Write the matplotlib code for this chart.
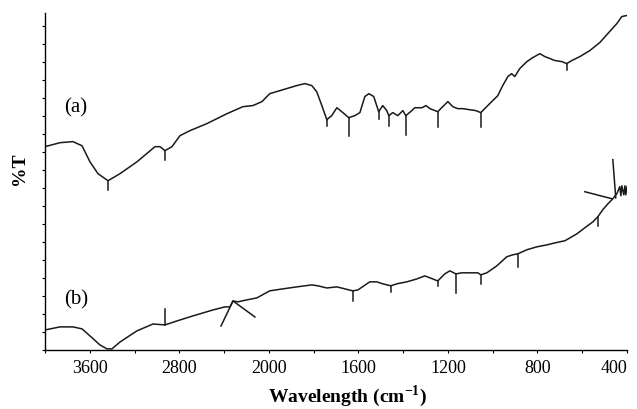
import matplotlib
matplotlib.use("Agg")
import matplotlib.pyplot as plt
import numpy as np

# wavenumber (cm-1) and %T readings, curve (a)
wn_a = [4000, 3866, 3750, 3669, 3598, 3526, 3437, 3330, 3178, 3017, 2972, 2928,
        2865, 2794, 2704, 2553, 2374, 2231, 2142, 2061, 1996, 1937, 1875, 1839,
        1808, 1786, 1763, 1741, 1719, 1696, 1669, 1643, 1616, 1593, 1571, 1553,
        1531, 1518, 1509, 1491, 1473, 1464, 1446, 1424, 1401, 1388, 1361, 1348,
        1316, 1298, 1280, 1245, 1223, 1200, 1178, 1156, 1134, 1102, 1075, 1053,
        1013, 977, 955, 932, 915, 901, 879, 847, 821, 789, 767, 722, 691, 669,
        646, 610, 566, 521, 485, 445, 423, 400]
t_a = [11.28, 11.5, 11.56, 11.33, 10.44, 9.78, 9.39, 9.78, 10.44, 11.28, 11.28, 11.06,
       11.28, 11.89, 12.17, 12.56, 13.11, 13.5, 13.56, 13.78, 14.22, 14.44, 14.67, 14.78,
       14.67, 14.33, 13.56, 12.78, 13.0, 13.44, 13.17, 12.89, 13.0, 13.17, 14.06, 14.22,
       14.06, 13.56, 13.22, 13.56, 13.28, 13.0, 13.17, 13.0, 13.28, 13.0, 13.28, 13.44,
       13.44, 13.56, 13.39, 13.22, 13.5, 13.78, 13.5, 13.39, 13.39, 13.33, 13.28, 13.17,
       13.67, 14.11, 14.67, 15.17, 15.33, 15.17, 15.61, 16.0, 16.22, 16.44, 16.28, 16.06, 16.0, 15.89,
       16.06, 16.28, 16.61, 17.06, 17.56, 18.11, 18.5, 18.56]

# curve (b)
wn_b = [4000, 3866, 3750, 3669, 3598, 3509, 3446, 3401, 3330, 3178, 3035, 2928,
        2821, 2678, 2499, 2392, 2347, 2320, 2276, 2195, 2106, 1996, 1937, 1875,
        1808, 1781, 1741, 1696, 1660, 1625, 1602, 1549, 1518, 1491, 1455, 1428,
        1383, 1339, 1303, 1280, 1245, 1214, 1191, 1164, 1138, 1102, 1066, 1053,
        1026, 981, 937, 910, 888, 847, 803, 758, 722, 677, 624, 588, 552, 530,
        508, 485, 463, 445, 432, 427, 423, 414, 409, 405, 400]
t_b = [1.11, 1.28, 1.28, 1.17, 0.78, 0.28, 0.06, 0.06, 0.44, 1.06, 1.44, 1.39,
       1.61, 1.89, 2.22, 2.39, 2.39, 2.72, 2.67, 2.78, 2.89, 3.28, 3.39, 3.5,
       3.61, 3.56, 3.44, 3.5, 3.39, 3.28, 3.33, 3.78, 3.78, 3.67, 3.56, 3.67,
       3.78, 3.94, 4.11, 4.0, 3.83, 4.22, 4.39, 4.22, 4.28, 4.28, 4.28, 4.17,
       4.28, 4.67, 5.17, 5.28, 5.33, 5.56, 5.72, 5.83, 5.94, 6.06, 6.44, 6.78, 7.11, 7.39,
       7.78, 8.11, 8.39, 8.67, 9.06, 8.56, 9.11, 8.61, 9.11, 8.61, 9.06]

# peak marks: position and tick length (negative = downward)
marks_a = [3437, 2928, 1741, 1643, 1509, 1464, 1388, 1245, 1053, 669]
len_a = [-0.5, -0.5, -0.33, -1.0, -0.4, -0.55, -1.05, -0.83, -0.78, -0.33]
marks_b = [2928, 1625, 1455, 1245, 1164, 1053, 888, 530]
len_b = [0.9, -0.55, -0.33, -0.28, -1.05, -0.5, -0.72, -0.5]

# pointer lines drawn on curve (b)
caret_wn = [2427, 2320, 2124]
caret_t = [1.33, 2.72, 1.83]
ptr1_wn = [463, 450]
ptr1_t = [10.56, 8.44]
ptr2_wn = [588, 467]
ptr2_t = [8.78, 8.39]

xticks = [4000, 3600, 3200, 2800, 2400, 2000, 1800, 1600, 1400, 1200, 1000, 800, 600, 400]
xlabels = ["", "3600", "", "2800", "", "2000", "", "1600", "", "1200", "", "800", "", "400"]


def fwd(x):
    x = np.asarray(x, dtype=float)
    return np.where(x > 2000, 2000 + (x - 2000) / 2, x)


def inv(u):
    u = np.asarray(u, dtype=float)
    return np.where(u > 2000, 2000 + 2 * (u - 2000), u)


plt.rcParams["font.family"] = ["Liberation Serif", "DejaVu Serif"]
plt.rcParams["mathtext.fontset"] = "custom"
plt.rcParams["mathtext.rm"] = "Liberation Serif"
plt.rcParams["mathtext.bf"] = "Liberation Serif:bold"

fig = plt.figure(figsize=(6.37, 4.10), dpi=100)
ax = fig.add_axes([0.0706, 0.144, 0.9136, 0.822])
ax.set_xscale("function", functions=(fwd, inv))

lw = 1.1
c = "#1a1a1a"
ax.plot(wn_a, t_a, color=c, lw=lw, solid_joinstyle="round")
ax.plot(wn_b, t_b, color=c, lw=lw, solid_joinstyle="round")

wa = np.array(wn_a)[::-1]
ta = np.array(t_a)[::-1]
for w, l in zip(marks_a, len_a):
    y0 = np.interp(w, wa, ta)
    ax.plot([w, w], [y0, y0 + l], color=c, lw=lw)
wb = np.array(wn_b)[::-1]
tb = np.array(t_b)[::-1]
for w, l in zip(marks_b, len_b):
    y0 = np.interp(w, wb, tb)
    ax.plot([w, w], [y0, y0 + l], color=c, lw=lw)

ax.plot(caret_wn, caret_t, color=c, lw=lw)
ax.plot(ptr1_wn, ptr1_t, color=c, lw=lw)
ax.plot(ptr2_wn, ptr2_t, color=c, lw=lw)

ax.text(3723, 13.5, "(a)", fontsize=15, ha="center", va="center")
ax.text(3723, 2.83, "(b)", fontsize=15, ha="center", va="center")

ax.set_xlim(4000, 400)
ax.set_ylim(0, 18.7)
ax.set_xticks(xticks, labels=xlabels)
ax.set_yticks(np.arange(0, 19, 1))
ax.set_yticklabels([])
ax.tick_params(axis="both", direction="out", length=2.5, width=0.8)
ax.tick_params(axis="x", labelsize=13, pad=4)
ax.get_xticklabels()[-1].set_horizontalalignment("right")
for s in ["top", "right"]:
    ax.spines[s].set_visible(False)
for s in ["left", "bottom"]:
    ax.spines[s].set_linewidth(1.0)

ax.set_xlabel("Wavelength (cm$^{\\mathbf{-1}}$)", fontsize=14, fontweight="bold")
ax.xaxis.set_label_coords(0.52, -0.095)
ax.set_ylabel("%T", fontsize=14, fontweight="bold")
ax.yaxis.set_label_coords(-0.03, 0.54)

fig.savefig("out.png", dpi=100)
